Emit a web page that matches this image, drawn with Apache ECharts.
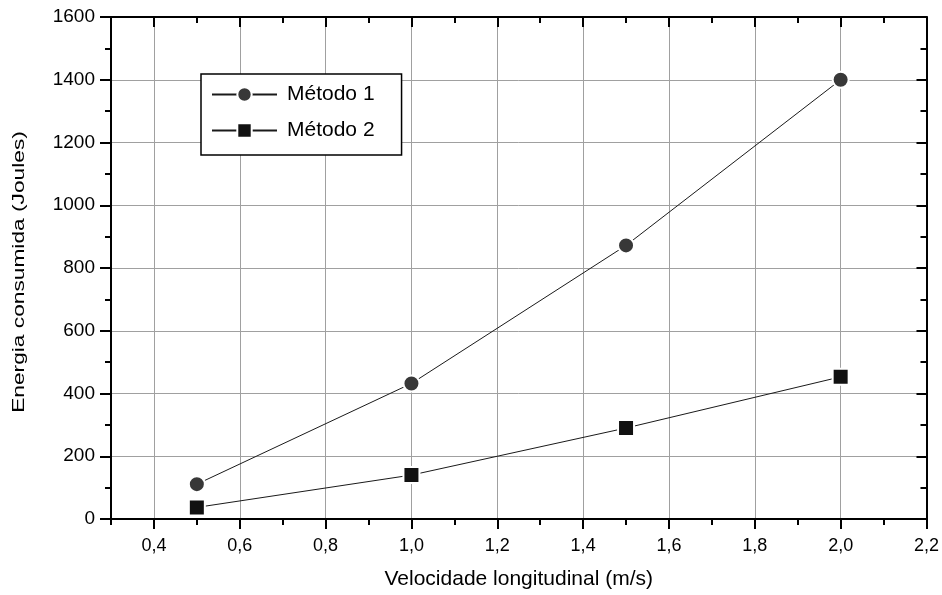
<!DOCTYPE html>
<html>
<head>
<meta charset="utf-8">
<script src="https://cdn.jsdelivr.net/npm/echarts@6/dist/echarts.min.js"></script>
<style>
html,body{margin:0;padding:0;background:#fff;}
#chart{width:942px;height:595px;}
</style>
</head>
<body>
<div id="chart"></div>
<script>
// ---- data ----
const xValues = [0.5, 1.0, 1.5, 2.0];
const metodo1 = [111, 432, 872, 1400];
const metodo2 = [37, 140, 290, 453];
const seriesNames = ['Método 1', 'Método 2'];
const xTickValues = [0.4, 0.6, 0.8, 1.0, 1.2, 1.4, 1.6, 1.8, 2.0, 2.2];
const xTickLabels = ['0,4', '0,6', '0,8', '1,0', '1,2', '1,4', '1,6', '1,8', '2,0', '2,2'];
const yTickLabels = ['0', '200', '400', '600', '800', '1000', '1200', '1400', '1600'];
const xTitle = 'Velocidade longitudinal (m/s)';
const yTitle = 'Energia consumida (Joules)';

const FONT = '"Liberation Sans", Arial, sans-serif';
const chart = echarts.init(document.getElementById('chart'), null, {renderer: 'canvas'});

function xLabel(v) {
  const i = xTickValues.findIndex(t => Math.abs(t - v) < 1e-6);
  return i >= 0 ? xTickLabels[i] : '';
}
function yLabel(v) {
  const i = Math.round(v / 200);
  return yTickLabels[i] !== undefined ? yTickLabels[i] : '';
}

const axisLineStyle = {show: true, onZero: false, lineStyle: {color: '#000', width: 2}};
const tickStyle = {color: '#000', width: 2};

const option = {
  backgroundColor: '#fff',
  animation: false,
  grid: {left: 111, top: 17, width: 816, height: 504, containLabel: false},
  legend: {
    data: seriesNames,
    orient: 'vertical',
    left: 201, top: 74,
    padding: [10, 27, 14, 10],
    itemWidth: 65, itemHeight: 18, itemGap: 15,
    borderColor: '#000', borderWidth: 1.5, backgroundColor: '#fff',
    textStyle: {fontFamily: FONT, fontSize: 21, color: '#000', padding: [0, 0, 0, 5]}
  },
  xAxis: [
    {
      type: 'value', position: 'bottom', min: 0.3, max: 2.2, splitNumber: 10,
      axisLine: axisLineStyle,
      axisTick: {show: true, inside: false, length: 10, lineStyle: tickStyle, customValues: xTickValues},
      axisLabel: {show: true, customValues: xTickValues, formatter: xLabel, margin: 18,
        fontFamily: FONT, fontSize: 18, color: '#000'},
      splitLine: {show: true, lineStyle: {color: '#a0a0a0', width: 1}},
      name: xTitle, nameLocation: 'middle', nameGap: 50,
      nameTextStyle: {fontFamily: FONT, fontSize: 21, color: '#000'}
    },
    {
      type: 'value', position: 'bottom', min: 0.3, max: 2.2, interval: 0.2,
      axisLine: {show: false, onZero: false},
      axisTick: {show: true, inside: false, length: 6, lineStyle: tickStyle},
      axisLabel: {show: false}, splitLine: {show: false}
    },
    {
      type: 'value', position: 'top', min: 0.3, max: 2.2, splitNumber: 10,
      axisLine: axisLineStyle,
      axisTick: {show: true, inside: true, length: 10, lineStyle: tickStyle, customValues: xTickValues},
      axisLabel: {show: false}, splitLine: {show: false}
    },
    {
      type: 'value', position: 'top', min: 0.3, max: 2.2, interval: 0.2,
      axisLine: {show: false, onZero: false},
      axisTick: {show: true, inside: true, length: 6, lineStyle: tickStyle},
      axisLabel: {show: false}, splitLine: {show: false}
    }
  ],
  yAxis: [
    {
      type: 'value', position: 'left', min: 0, max: 1600, interval: 200,
      axisLine: axisLineStyle,
      axisTick: {show: true, inside: false, length: 11, lineStyle: tickStyle},
      minorTick: {show: true, splitNumber: 2, length: 6, lineStyle: tickStyle},
      axisLabel: {show: true, formatter: yLabel, margin: 16, fontFamily: FONT, fontSize: 19, color: '#000'},
      splitLine: {show: true, lineStyle: {color: '#a0a0a0', width: 1}}
    },
    {
      type: 'value', position: 'right', min: 0, max: 1600, interval: 200,
      axisLine: axisLineStyle,
      axisTick: {show: true, inside: true, length: 10, lineStyle: tickStyle},
      minorTick: {show: true, splitNumber: 2, length: 6, lineStyle: tickStyle},
      axisLabel: {show: false}, splitLine: {show: false}
    }
  ],
  graphic: [
    {
      type: 'text', x: 20, y: 272, rotation: Math.PI / 2, scaleX: 1.42,
      style: {text: yTitle, fontFamily: FONT, fontSize: 16, fill: '#000', align: 'center', verticalAlign: 'middle'}
    }
  ],
  series: [
    {
      name: seriesNames[0], type: 'line', xAxisIndex: 0, yAxisIndex: 0,
      data: xValues.map((x, i) => [x, metodo1[i]]),
      symbol: 'circle', symbolSize: 16,
      lineStyle: {color: '#1a1a1a', width: 1},
      itemStyle: {color: '#383838', borderColor: '#fff', borderWidth: 2},
      z: 5
    },
    {
      name: seriesNames[1], type: 'line', xAxisIndex: 0, yAxisIndex: 0,
      data: xValues.map((x, i) => [x, metodo2[i]]),
      symbol: 'rect', symbolSize: 16,
      lineStyle: {color: '#1a1a1a', width: 1},
      itemStyle: {color: '#111', borderColor: '#fff', borderWidth: 2},
      z: 5
    }
  ]
};
chart.setOption(option);
</script>
</body>
</html>
